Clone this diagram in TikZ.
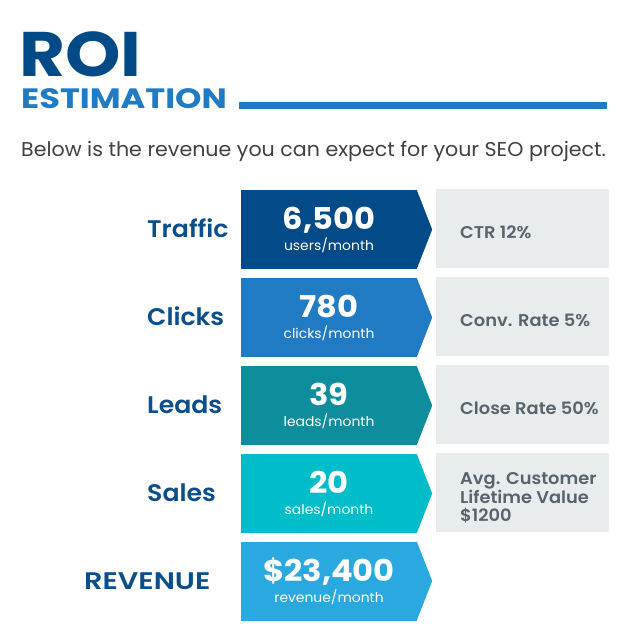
\documentclass[tikz,border=0pt]{standalone}
\usepackage{fontspec}
\setmainfont{Poppins}[FakeStretch=1.03]
\newfontfamily\semib{Poppins SemiBold}[FakeStretch=1.05]
\newfontfamily\numbold{Poppins Bold}[FakeStretch=1.07]
\newfontfamily\capsbold{Poppins Bold}[FakeStretch=1.2]
\newfontfamily\capssemib{Poppins SemiBold}[FakeStretch=1.2]
\newfontfamily\roibold{Poppins Bold}[FakeStretch=1.12]
\usepackage{xcolor}
\usetikzlibrary{calc}
\definecolor{roiblue}{HTML}{004A87}
\definecolor{estblue}{HTML}{1F7BC4}
\definecolor{labblue}{HTML}{0B4E8C}
\definecolor{bodytext}{HTML}{404040}
\definecolor{cone}{HTML}{034B88}
\definecolor{ctwo}{HTML}{217BC4}
\definecolor{cthree}{HTML}{0E8E9C}
\definecolor{cfour}{HTML}{00BDC9}
\definecolor{cfive}{HTML}{2AA9E1}
\definecolor{greybox}{HTML}{E9ECED}
\definecolor{notegrey}{HTML}{58636D}

\begin{document}
\begin{tikzpicture}[x=1pt,y=-1pt,
  valbox/.style={minimum width=176, minimum height=79, inner sep=0, text=white, align=center, font=\fontsize{13.5}{21}\selectfont},
  rowlab/.style={anchor=base west, inner sep=0, text=labblue, font=\fontsize{24}{24}\semib},
  notebox/.style={fill=greybox, minimum width=173, minimum height=79, inner sep=0},
  notetxt/.style={anchor=base west, inner sep=0, text=notegrey, align=left, font=\fontsize{17}{18.5}\semib}]
\useasboundingbox (0,0) rectangle (641,630);
\node[anchor=base west, inner sep=0, text depth=0, text height=45, text=roiblue, font=\fontsize{63}{63}\roibold] (roi) at (19,76) {ROI};
\node[anchor=base west, inner sep=0, text depth=0, text height=20.5, text=estblue, font=\fontsize{28}{28}\capsbold] (est) at (21,108) {ESTIMATION};
\coordinate (rulestart) at (239,105.5);
\coordinate (ruleend) at (607,105.5);
\draw[estblue, line width=7] (rulestart) -- (ruleend);
\node[anchor=base west, inner sep=0, text=bodytext, font=\fontsize{20}{20}\selectfont] (intro) at (21,156) {Below is the revenue you can expect for your SEO project.};

\node[rowlab] (ltraffic) at (147,237) {Traffic};
\node[rowlab] (lclicks) at (147,325) {Clicks};
\node[rowlab] (lleads) at (147,413) {Leads};
\node[rowlab] (lsales) at (147,501) {Sales};
\node[rowlab, font=\fontsize{24}{24}\capssemib] (lrevenue) at (84,589) {REVENUE};

\node[valbox, fill=cone] (traffic) at (329,229.5) {{\fontsize{30}{30}\numbold 6,500}\\users/month};
\fill[cone] ($(traffic.north east)+(-0.5,0)$) -- ($(traffic.east)+(15,0)$) -- ($(traffic.south east)+(-0.5,0)$) -- cycle;
\node[valbox, fill=ctwo] (clicks) at (329,317.5) {{\fontsize{30}{30}\numbold 780}\\clicks/month};
\fill[ctwo] ($(clicks.north east)+(-0.5,0)$) -- ($(clicks.east)+(15,0)$) -- ($(clicks.south east)+(-0.5,0)$) -- cycle;
\node[valbox, fill=cthree] (leads) at (329,405.5) {{\fontsize{30}{30}\numbold 39}\\leads/month};
\fill[cthree] ($(leads.north east)+(-0.5,0)$) -- ($(leads.east)+(15,0)$) -- ($(leads.south east)+(-0.5,0)$) -- cycle;
\node[valbox, fill=cfour] (sales) at (329,493.5) {{\fontsize{30}{30}\numbold 20}\\sales/month};
\fill[cfour] ($(sales.north east)+(-0.5,0)$) -- ($(sales.east)+(15,0)$) -- ($(sales.south east)+(-0.5,0)$) -- cycle;
\node[valbox, fill=cfive] (revenue) at (329,581) {{\fontsize{30}{30}\numbold \$23,400}\\revenue/month};
\fill[cfive] ($(revenue.north east)+(-0.5,0)$) -- ($(revenue.east)+(15,0)$) -- ($(revenue.south east)+(-0.5,0)$) -- cycle;

\node[notebox] (gctr) at (522.5,228.5) {};
\node[notebox] (gconv) at (522.5,316.5) {};
\node[notebox] (gclose) at (522.5,404.5) {};
\node[notebox] (gltv) at (522.5,492.5) {};
\node[notetxt] (ctr) at (460,238) {CTR 12\%};
\node[notetxt] (conv) at (460,326) {Conv. Rate 5\%};
\node[notetxt] (close) at (460,414) {Close Rate 50\%};
\node[notetxt, anchor=west] (ltv) at (460,498) {Avg. Customer\\Lifetime Value\\\$1200};
\end{tikzpicture}
\end{document}
